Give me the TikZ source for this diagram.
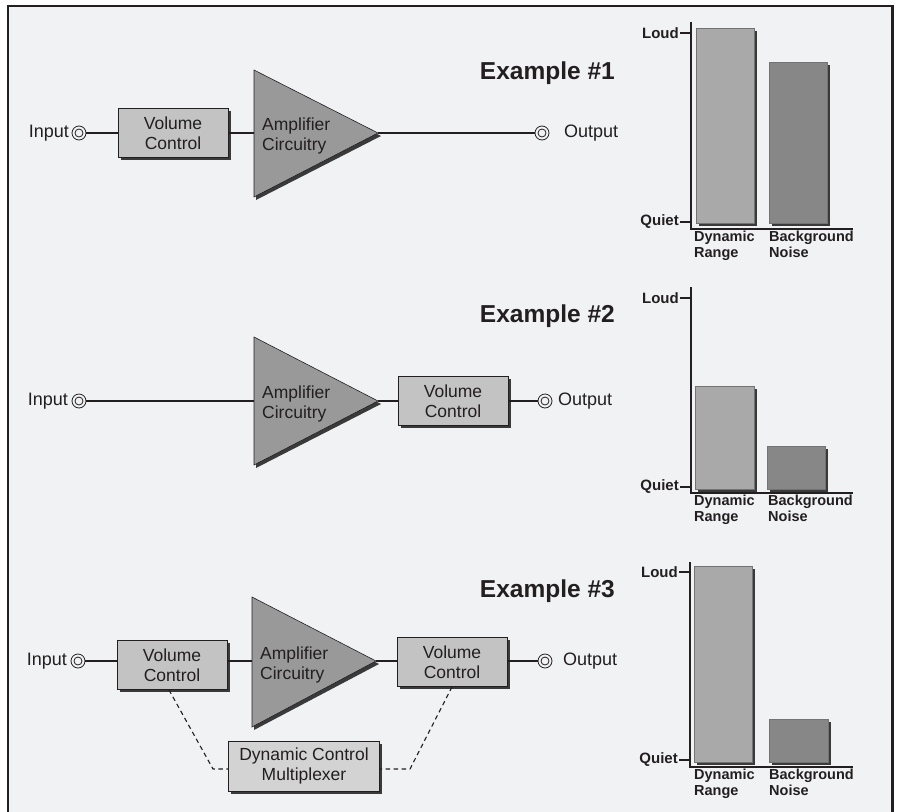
\documentclass[tikz,border=0pt]{standalone}
\usepackage{fontspec}
\setmainfont{Liberation Sans}
\usetikzlibrary{shadows}
\definecolor{bg}{HTML}{F1F2F4}
\definecolor{boxfill}{HTML}{C3C3C3}
\definecolor{dcmfill}{HTML}{D3D3D3}
\definecolor{ampfill}{HTML}{999999}
\definecolor{barA}{HTML}{A9A9A9}
\definecolor{barB}{HTML}{878787}
\definecolor{ink}{HTML}{231F20}
\definecolor{shade}{HTML}{3A3A3A}
\begin{document}
\begin{tikzpicture}[x=1pt,y=-1pt,
  conn/.style={draw=ink, line width=1.1},
  thickconn/.style={draw=ink, line width=2},
  dashconn/.style={draw=ink, line width=1.1, dash pattern=on 4.5pt off 3.5pt},
  vcbox/.style={draw=ink, line width=0.8, fill=boxfill, minimum width=110, minimum height=49, inner sep=0, align=center,
    font=\fontsize{17.5}{20.5}\selectfont, text=ink,
    general shadow={fill=shade, shadow xshift=2.5pt, shadow yshift=-2.5pt}},
  dcmbox/.style={vcbox, fill=dcmfill, minimum width=151, minimum height=50},
  jack/.style={circle, draw=ink, line width=0.8, fill=bg, minimum size=14, inner sep=0,
    path picture={\draw[ink, line width=0.8] (path picture bounding box.center) circle (4pt);}},
  lbl/.style={font=\fontsize{18}{20}\selectfont, text=ink, inner sep=0},
  amptext/.style={font=\fontsize{17.5}{20.5}\selectfont, text=ink, inner sep=0, align=left},
  amp/.style={draw=ink, line width=0.6, fill=ampfill},
  ampshadow/.style={fill=shade},
  title/.style={font=\bfseries\fontsize{24.5}{26}\selectfont, text=ink, inner sep=0},
  axisline/.style={draw=ink, line width=2.8},
  ticktxt/.style={font=\bfseries\fontsize{15}{16}\selectfont, text=ink, inner sep=0},
  catlbl/.style={font=\bfseries\fontsize{14.5}{15.5}\selectfont, text=ink, inner sep=0, align=left},
  barone/.style={fill=barA, draw=black!55, line width=0.5},
  bartwo/.style={fill=barB, draw=black!55, line width=0.5},
  barshadow/.style={fill=shade}
]
\useasboundingbox (0,0) rectangle (898,812);
\fill[white] (0,0) rectangle (898,812);
\draw[line width=2.4, draw=ink, fill=bg] (8,6) rectangle (892.5,840);

% ---------------- Example 1 ----------------
\node[title, anchor=east] (t1) at (615,73) {Example \#1};
\node[jack] (in1) at (79,133) {};
\node[lbl, anchor=east] (in1lbl) at (69,133) {Input};
\node[vcbox] (vc1) at (173,133) {Volume\\Control};
\fill[ampshadow] (256,73) -- (381,136) -- (256,200) -- cycle;
\draw[amp] (254,70) -- (378,133) -- (254,197) -- cycle;
\coordinate (amp1in) at (254,133);
\coordinate (amp1out) at (378,133);
\node[amptext, anchor=west] (amp1) at (262,136) {Amplifier\\Circuitry};
\node[jack] (out1) at (542,133) {};
\node[lbl, anchor=west] (out1lbl) at (564,133) {Output};
\draw[conn] (in1) -- (vc1);
\draw[conn] (vc1) -- (amp1in);
\draw[conn] (amp1out) -- (out1);

% ---------------- Example 2 ----------------
\node[title, anchor=east] (t2) at (615,316) {Example \#2};
\node[jack] (in2) at (79,401) {};
\node[lbl, anchor=east] (in2lbl) at (68,401) {Input};
\fill[ampshadow] (256,340) -- (381,404) -- (256,468) -- cycle;
\draw[amp] (254,337) -- (378,401) -- (254,465) -- cycle;
\coordinate (amp2in) at (254,401);
\coordinate (amp2out) at (378,401);
\node[amptext, anchor=west] (amp2) at (262,404) {Amplifier\\Circuitry};
\node[vcbox] (vc2) at (453,401) {Volume\\Control};
\node[jack] (out2) at (545,401) {};
\node[lbl, anchor=west] (out2lbl) at (558,401) {Output};
\draw[conn] (in2) -- (amp2in);
\draw[conn] (amp2out) -- (vc2);
\draw[thickconn] (vc2) -- (out2);

% ---------------- Example 3 ----------------
\node[title, anchor=east] (t3) at (615,591) {Example \#3};
\node[jack] (in3) at (78,661) {};
\node[lbl, anchor=east] (in3lbl) at (67,661) {Input};
\node[vcbox] (vc3a) at (172,665) {Volume\\Control};
\fill[ampshadow] (254,600) -- (379,664) -- (254,730) -- cycle;
\draw[amp] (252,597) -- (376,661) -- (252,727) -- cycle;
\coordinate (amp3in) at (252,661);
\coordinate (amp3out) at (376,661);
\node[amptext, anchor=west] (amp3) at (260,665) {Amplifier\\Circuitry};
\node[vcbox] (vc3b) at (452,662) {Volume\\Control};
\node[jack] (out3) at (545,661) {};
\node[lbl, anchor=west] (out3lbl) at (563,661) {Output};
\node[dcmbox] (dcm) at (304,766) {Dynamic Control\\Multiplexer};
\draw[conn] (in3) -- (vc3a.west |- in3);
\draw[conn] (vc3a.east |- amp3in) -- (amp3in);
\draw[conn] (amp3out) -- (vc3b.west |- amp3out);
\draw[conn] (vc3b.east |- out3) -- (out3);
\coordinate (dl) at (213,769);
\coordinate (dr) at (410,769);
\draw[dashconn] (vc3a.south) ++(-3,0) -- (dl) -- (dcm.west |- dl);
\draw[dashconn] (vc3b.south) -- (dr) -- (dcm.east |- dr);

% ---------------- Chart 1 ----------------
\fill[barshadow] (698.5,30.5) rectangle (756.5,225.5);
\path[barone] (696,28) rectangle (754,223);
\fill[barshadow] (771.5,64.5) rectangle (829.5,225.5);
\path[bartwo] (769,62) rectangle (827,223);
\draw[axisline] (691,22) -- (691,229) -- (853,229);
\draw[axisline] (680,33) -- (691,33);
\draw[axisline] (680,222) -- (691,222);
\node[ticktxt, anchor=east] (loud1) at (679,33) {Loud};
\node[ticktxt, anchor=east] (quiet1) at (679,222) {Quiet};
\node[catlbl, anchor=north west] (dr1) at (694,231) {Dynamic\\Range};
\node[catlbl, anchor=north west] (bn1) at (769,231) {Background\\Noise};

% ---------------- Chart 2 ----------------
\fill[barshadow] (697.5,388.5) rectangle (756.5,491.5);
\path[barone] (695,386) rectangle (754,489);
\fill[barshadow] (769.5,448.5) rectangle (827.5,491.5);
\path[bartwo] (767,446) rectangle (825,489);
\draw[axisline] (691,287) -- (691,493) -- (853,493);
\draw[axisline] (680,298) -- (691,298);
\draw[axisline] (680,487) -- (691,487);
\node[ticktxt, anchor=east] (loud2) at (679,298) {Loud};
\node[ticktxt, anchor=east] (quiet2) at (679,487) {Quiet};
\node[catlbl, anchor=north west] (dr2) at (694,495) {Dynamic\\Range};
\node[catlbl, anchor=north west] (bn2) at (768,495) {Background\\Noise};

% ---------------- Chart 3 ----------------
\fill[barshadow] (696.5,568.5) rectangle (754.5,764.5);
\path[barone] (694,566) rectangle (752,762);
\fill[barshadow] (771.5,721.5) rectangle (830.5,764.5);
\path[bartwo] (769,719) rectangle (828,762);
\draw[axisline] (690,562) -- (690,767) -- (853,767);
\draw[axisline] (679,572) -- (690,572);
\draw[axisline] (679,760) -- (690,760);
\node[ticktxt, anchor=east] (loud3) at (678,572) {Loud};
\node[ticktxt, anchor=east] (quiet3) at (678,760) {Quiet};
\node[catlbl, anchor=north west] (dr3) at (694,769) {Dynamic\\Range};
\node[catlbl, anchor=north west] (bn3) at (769,769) {Background\\Noise};
\end{tikzpicture}
\end{document}
